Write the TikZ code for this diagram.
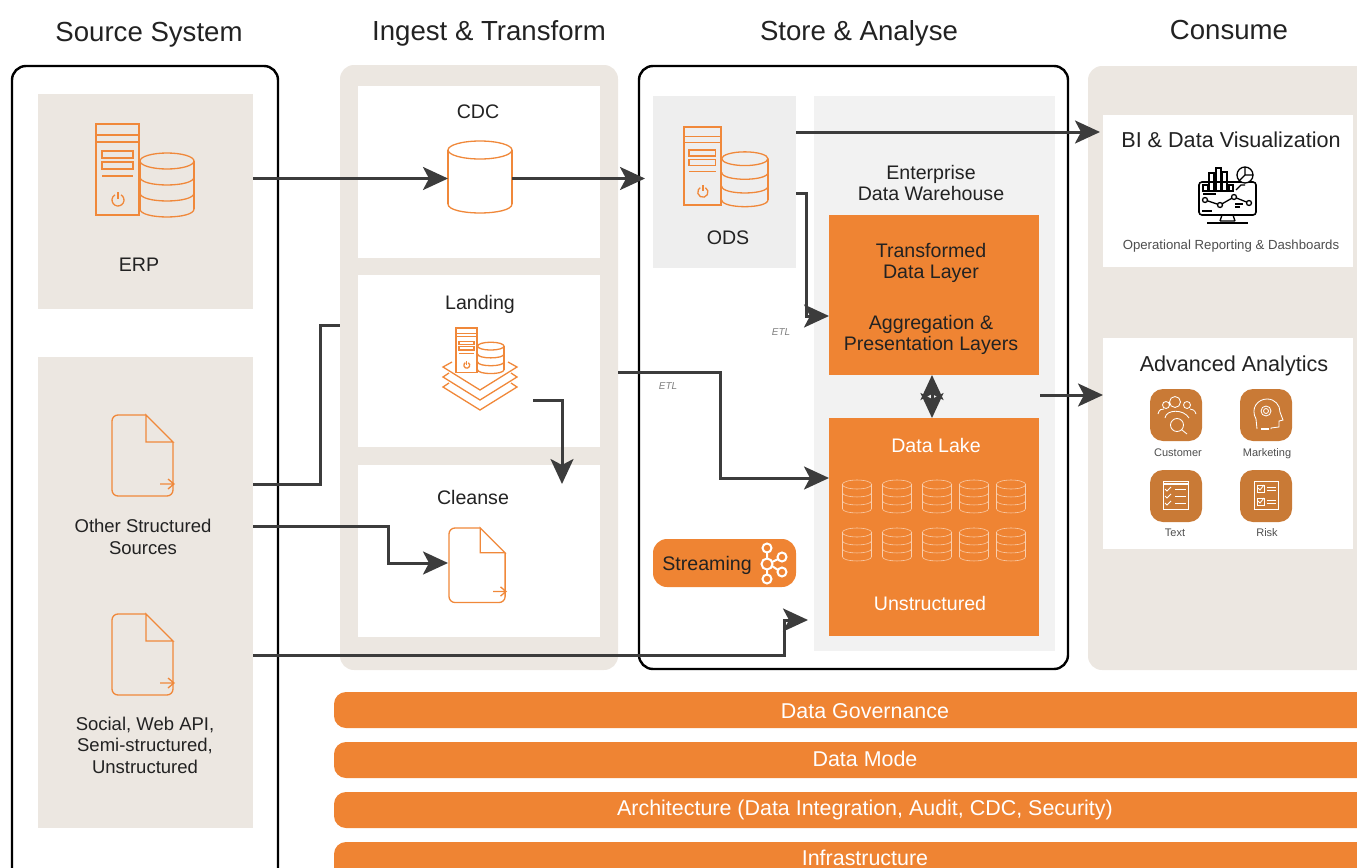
\documentclass[tikz,border=0pt]{standalone}
\usepackage{fontspec}
\setmainfont{Liberation Sans}
\usetikzlibrary{arrows.meta}
\definecolor{panelbeige}{HTML}{ECE7E1}
\definecolor{boxorange}{HTML}{EF8433}
\definecolor{iconorange}{HTML}{F0883A}
\definecolor{tileorange}{HTML}{C97A36}
\definecolor{flowgray}{HTML}{3C3C3C}
\definecolor{edwgray}{HTML}{F2F2F2}
\definecolor{odsgray}{HTML}{EEEEEE}
\definecolor{inkgray}{HTML}{222222}
\tikzset{
	panel/.style={rectangle,inner sep=0pt,outer sep=0pt},
	beige/.style={panel,fill=panelbeige},
	beigeround/.style={panel,fill=panelbeige,rounded corners=7pt},
	blackround/.style={panel,draw=black,line width=1.2pt,rounded corners=7pt},
	whitebox/.style={panel,fill=white},
	orangebox/.style={panel,fill=boxorange},
	barbox/.style={panel,fill=boxorange,rounded corners=6pt},
	tile/.style={panel,fill=tileorange,rounded corners=6.5pt},
	ghost/.style={panel},
	flow/.style={->,draw=flowgray,line width=1.5pt},
	flowplain/.style={draw=flowgray,line width=1.5pt},
	icon/.style={draw=iconorange,line width=0.65pt},
	thinwhite/.style={draw=white,line width=0.42pt},
	lakedb/.style={draw=white!60!boxorange,line width=0.28pt},
	blackicon/.style={draw=black,line width=0.65pt},
	head/.style={font=\fontsize{13.8pt}{16pt}\selectfont,text=inkgray},
	label/.style={font=\fontsize{9.8pt}{10.75pt}\selectfont,text=inkgray,align=center},
	sidelabel/.style={label,font=\fontsize{9.25pt}{10.75pt}\selectfont},
	whitelabel/.style={label,text=white},
	title/.style={font=\fontsize{10.8pt}{13pt}\selectfont,text=inkgray},
	smalltext/.style={font=\fontsize{6.6pt}{8pt}\selectfont,text=inkgray!80},
	tiletext/.style={font=\fontsize{5.5pt}{7pt}\selectfont,text=inkgray!80},
	etl/.style={font=\itshape\fontsize{5pt}{6pt}\selectfont,text=gray},
	bartext/.style={font=\fontsize{10.72pt}{12pt}\selectfont,text=white},
}
% box given by its corners, in pixels of the reference
\newcommand{\boxnode}[6]{%
	\pgfmathsetmacro{\boxw}{(#5-#3)*0.5}%
	\pgfmathsetmacro{\boxh}{(#6-#4)*0.5}%
	\node[#1,minimum width=\boxw pt,minimum height=\boxh pt] (#2) at ({(#3+#5)/2},{(#4+#6)/2}) {};%
}
% cx, top y, rx, ry, row step, rows
\newcommand{\dbstack}[6]{%
	\draw (#1,#2) ellipse [x radius=#3,y radius=#4];
	\draw ({#1-#3},#2) -- ({#1-#3},{#2+#5*#6});
	\draw ({#1+#3},#2) -- ({#1+#3},{#2+#5*#6});
	\foreach \k in {1,...,#6}{
		\draw ({#1-#3},{#2+\k*#5}) .. controls ({#1-#3},{#2+\k*#5+1.33*#4}) and ({#1+#3},{#2+\k*#5+1.33*#4}) .. ({#1+#3},{#2+\k*#5});
	}
}
% server and database
\newcommand{\serverdb}[3]{%
	\begin{scope}[shift={(#1,#2)},scale=#3,icon]
		\draw (0,0) rectangle (43,91);
		\draw (0,11) -- (43,11) (0,18) -- (43,18);
		\draw (6,27) rectangle (37,34) (6,38) rectangle (37,45);
		\draw (6,52) -- (37,52);
		\draw (25,70.8) arc[start angle=-60,end angle=240,radius=6];
		\draw (22,68) -- (22,75);
		\dbstack{71}{37}{27}{8}{16}{3}
	\end{scope}
}
% file with a folded corner and a small arrow
\newcommand{\docicon}[3]{%
	\begin{scope}[shift={(#1,#2)},scale=#3,icon]
		\draw[rounded corners=3pt] (34,0) -- (0,0) -- (0,81) -- (61,81) -- (61,27);
		\draw (34,0) -- (61,27) -- (34,27) -- cycle;
		\draw (48,69) -- (62,69) (56,64) -- (62,69) -- (56,74);
	\end{scope}
}
\begin{document}
\begin{tikzpicture}[x=0.5pt,y=-0.5pt,line join=miter,>={Stealth[length=12.5pt,width=11.5pt,inset=3pt]}]
	\useasboundingbox (0,0) rectangle (1357,868);
	\clip (0,0) rectangle (1357,868);
	% Titles
	\node[head] (headsource) at (149,35) {Source System};
	\node[head] (headingest) at (489,33) {Ingest \& Transform};
	\node[head] (headstore) at (859,33) {Store \& Analyse};
	\node[head] (headconsume) at (1229,30) {Consume};
	% Panels
	\boxnode{blackround}{source}{12}{66}{278}{920}
	\boxnode{beige}{erp}{38}{94}{253}{309}
	\boxnode{beige}{other}{38}{357}{253}{828}
	\boxnode{beigeround}{ingest}{340}{65}{618}{670}
	\boxnode{whitebox}{cdc}{358}{86}{600}{258}
	\boxnode{whitebox}{landing}{358}{275}{600}{447}
	\boxnode{whitebox}{cleanse}{358}{465}{600}{637}
	\boxnode{blackround}{store}{639}{66}{1068}{669}
	\boxnode{panel,fill=odsgray}{ods}{653}{96}{796}{268}
	\boxnode{panel,fill=edwgray}{edw}{814}{96}{1055}{651}
	\boxnode{orangebox}{transformed}{829}{215}{1039}{375}
	\boxnode{orangebox}{lake}{829}{418}{1039}{636}
	\boxnode{orangebox,rounded corners=7pt}{streaming}{653}{539}{796}{587}
	\boxnode{beigeround}{consume}{1088}{66}{1400}{670}
	\boxnode{whitebox}{bi}{1103}{115}{1353}{267}
	\boxnode{whitebox}{analytics}{1103}{338}{1353}{549}
	% Bars
	\boxnode{barbox}{bargov}{334}{692}{1400}{728}
	\boxnode{barbox}{barmode}{334}{742}{1400}{778}
	\boxnode{barbox}{bararch}{334}{792}{1400}{828}
	\boxnode{barbox}{barinfra}{334}{842}{1400}{900}
	\node[bartext] (txtgov) at (865,711) {Data Governance};
	\node[bartext] (txtmode) at (865,759) {Data Mode};
	\node[bartext] (txtarch) at (865,810) {Architecture (Data Integration, Audit, CDC, Security)};
	\node[bartext] (txtinfra) at (865,858) {Infrastructure};
	% Icons
	\serverdb{96}{124}{1}
	\serverdb{684}{127}{0.857}
	\serverdb{456}{328}{0.49}
	\boxnode{ghost}{cdcdb}{448}{141}{512}{216}
	\begin{scope}[icon]
		\dbstack{480}{150}{32}{9}{54}{1}
	\end{scope}
	\draw[icon] (452,362) -- (443,367) -- (480,390) -- (517,367) -- (508,362);
	\draw[icon] (449,373) -- (443,377) -- (480,400) -- (517,377) -- (511,373);
	\draw[icon] (449,383) -- (443,387) -- (480,410) -- (517,387) -- (511,383);
	\docicon{112}{415}{1}
	\docicon{112}{614}{1}
	\docicon{449}{528}{0.92}
	% Data lake
	\begin{scope}[lakedb]
		\foreach \dbx in {857,897,937,974,1011}{
			\dbstack{\dbx}{484.5}{14.7}{4.5}{8}{3}
			\dbstack{\dbx}{532.5}{14.7}{4.5}{8}{3}
		}
	\end{scope}
	% Streaming
	\begin{scope}[draw=white,line width=1pt]
		\draw (767,564) circle (5.5);
		\draw (767,548) circle (4.5) (782,557) circle (4.5) (782,572) circle (4.5) (767,579) circle (4.5);
		\draw (767,552.5) -- (767,558.5) (767,569.5) -- (767,574.5) (772,562) -- (778,559) (772,566) -- (778,570);
	\end{scope}
	% Monitor
	\begin{scope}[blackicon]
		\draw[rounded corners=1.5pt,line width=0.8pt] (1199,182) rectangle (1256,215);
		\draw (1203,191) rectangle (1208,185) (1209,191) rectangle (1214,173) (1216,191) rectangle (1221,168) (1222,191) rectangle (1227,172) (1229,191) rectangle (1233,185);
		\draw[fill=white] (1245,175) circle (8);
		\draw (1245,167) -- (1245,175) -- (1253,175) (1245,175) -- (1239,181);
		\draw (1236,190) -- (1241,185) -- (1245,185);
		\draw (1203,194) -- (1216,194);
		\draw (1205,200) -- (1220,205) -- (1234,197) -- (1249,203);
		\draw[fill=white] (1205,200) circle (2.5) (1220,205) circle (2.5) (1234,197) circle (2.5) (1249,203) circle (2.5);
		\draw (1235,204) -- (1243,204) (1235,207) -- (1240,207) (1202,211) -- (1212,211);
		\draw (1222,215) -- (1220,221) (1233,215) -- (1235,221) (1220,221) -- (1235,221);
		\draw[line width=0.9pt] (1207,223) -- (1248,223);
	\end{scope}
	% Analytics tiles
	\boxnode{tile}{tilecustomer}{1150}{389}{1202}{441}
	\boxnode{tile}{tilemarketing}{1240}{389}{1292}{441}
	\boxnode{tile}{tiletext}{1150}{470}{1202}{522}
	\boxnode{tile}{tilerisk}{1240}{470}{1292}{522}
	\begin{scope}[thinwhite]
		\draw (1175,402) circle (5.5) (1166,405) circle (3.5) (1187,405) circle (3.5);
		\draw (1165,418) .. controls (1166,409) and (1184,409) .. (1189,418);
		\draw (1158,414) .. controls (1159,409) and (1162,409) .. (1164,409);
		\draw (1190,409) .. controls (1192,409) and (1195,410) .. (1196,414);
		\draw (1177,425) circle (6.5) (1182,430) -- (1187,434);
		\draw (1257,429) -- (1256,419) .. controls (1250,408) and (1258,399) .. (1267,399) .. controls (1275,399) and (1280,405) .. (1280,412) -- (1283,420) -- (1279,421) -- (1279,427) -- (1271,428) -- (1271,429);
		\draw (1266,411) circle (5) (1266,411) circle (2.5);
		\draw[line width=0.7pt] (1261,429) -- (1269,429);
		\draw (1163,481) rectangle (1188,509);
		\draw[line width=0.7pt] (1163,484) -- (1188,484);
		\foreach \rowy in {489,496,503}{
			\draw (1165,\rowy) -- (1167,{\rowy+2}) -- (1171,{\rowy-2});
			\draw (1175,\rowy) -- (1186,\rowy);
		}
		\draw (1254,481) rectangle (1278,509);
		\draw (1257,485) rectangle (1264,492) (1257,498) rectangle (1264,505);
		\draw (1258,488) -- (1260,490) -- (1264,485) (1258,501) -- (1260,503) -- (1264,498);
		\draw (1267,487) -- (1276,487) (1267,490) -- (1276,490) (1267,500) -- (1276,500) (1267,503) -- (1276,503);
	\end{scope}
	% Labels
	\node[label] (lblerp) at (139,265) {ERP};
	\node[sidelabel] (lblother) at (143,537) {Other Structured\\Sources};
	\node[sidelabel] (lblsocial) at (145,745) {Social, Web API,\\Semi-structured,\\Unstructured};
	\node[label] (lblcdc) at (478,112) {CDC};
	\node[label] (lbllanding) at (480,304) {Landing};
	\node[label] (lblcleanse) at (473,497) {Cleanse};
	\node[label] (lblods) at (728,238) {ODS};
	\node[label] (lbledw) at (931,183) {Enterprise\\Data Warehouse};
	\node[label] (lbltrans) at (931,263) {Transformed\\Data Layer};
	\node[label] (lblagg) at (931,335) {Aggregation \&\\Presentation Layers};
	\node[whitelabel] (lbllake) at (936,445) {Data Lake};
	\node[whitelabel] (lblunstruct) at (930,603) {Unstructured};
	\node[label] (lblstreaming) at (707,565) {Streaming};
	\node[etl] (etlone) at (781,332) {ETL};
	\node[etl] (etltwo) at (668,386) {ETL};
	\node[title] (lblbi) at (1231,140) {BI \& Data Visualization};
	\node[smalltext] (lblreport) at (1231,246) {Operational Reporting \& Dashboards};
	\node[title] (lbladv) at (1234,366) {Advanced Analytics};
	\node[tiletext] (lblcustomer) at (1178,453) {Customer};
	\node[tiletext] (lblmarketing) at (1267,454) {Marketing};
	\node[tiletext] (lbltext) at (1175,533) {Text};
	\node[tiletext] (lblrisk) at (1267,533) {Risk};
	% Connectors
	\coordinate (odstop) at (796,132);
	\coordinate (biin) at (1100,132);
	\coordinate (odslow) at (796,193);
	\coordinate (transin) at (829,316);
	\coordinate (landout) at (618,372);
	\coordinate (lakein) at (829,478);
	\coordinate (landicon) at (533,400);
	\coordinate (cleansein) at (562,484);
	\coordinate (otherup) at (253,484);
	\coordinate (landin) at (340,325);
	\coordinate (othermid) at (253,526);
	\coordinate (docin) at (448,563);
	\coordinate (socialout) at (253,655);
	\coordinate (edwin) at (808,620);
	\coordinate (edwout) at (1040,395);
	\draw[flow] (erp.east |- cdcdb) -- (cdcdb.west);
	\draw[flow,shorten >=4pt] (cdcdb.east) -- (cdcdb.east -| ods.west);
	\draw[flow] (odstop) -- (biin);
	\draw[flow] (odslow) -- ++(10,0) |- (transin);
	\draw[flow] (landout) -- ++(102,0) |- (lakein);
	\draw[flow] (landicon) -| (cleansein);
	\draw[flowplain] (otherup) -- ++(67,0) |- (landin);
	\draw[flow] (othermid) -- ++(135,0) |- (docin);
	\draw[flow] (socialout) -- ++(531,0) |- (edwin);
	\draw[flow] (edwout) -- (edwout -| analytics.west);
	\draw[flow,<->] ([xshift=-1pt]transformed.south) -- ([xshift=-1pt]lake.north);
\end{tikzpicture}
\end{document}
